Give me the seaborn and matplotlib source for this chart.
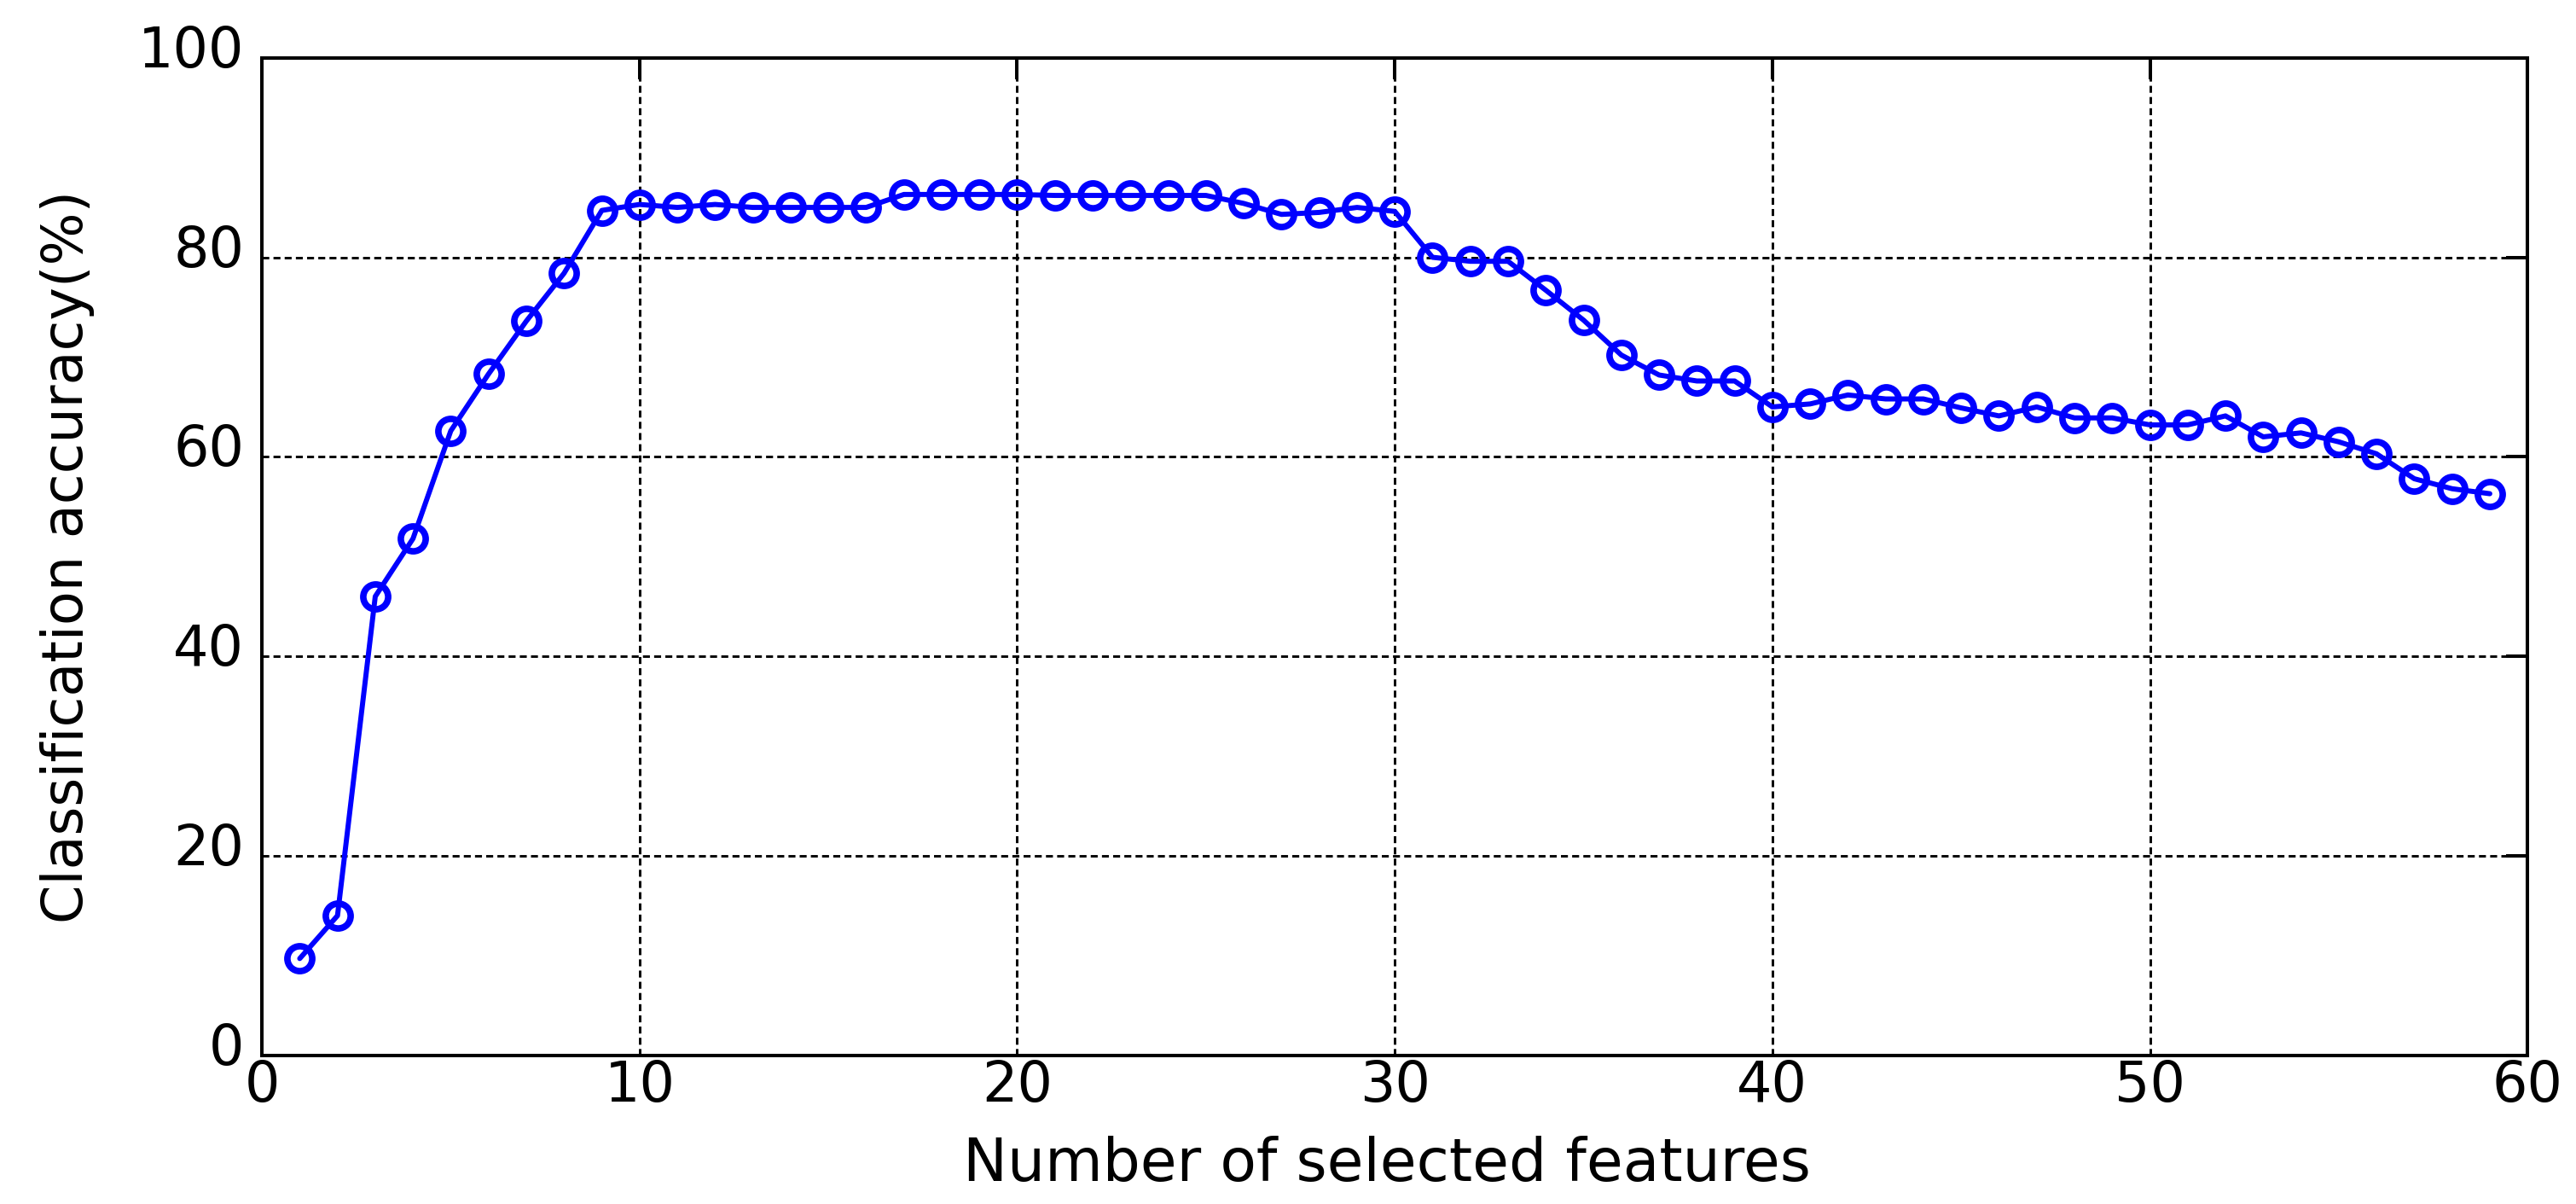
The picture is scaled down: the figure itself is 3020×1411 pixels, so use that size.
import numpy as np
import pandas as pd
import seaborn as sns
import matplotlib
matplotlib.use('Agg')
import matplotlib.pyplot as plt
import matplotlib.transforms as mtransforms

features = list(range(1, 60))
accuracy = [9.7, 14.0, 46.0, 51.8, 62.6, 68.3, 73.6, 78.4, 84.7, 85.3,
            85.0, 85.3, 85.0, 85.0, 85.0, 85.0, 86.3, 86.3, 86.3, 86.3,
            86.2, 86.2, 86.2, 86.2, 86.2, 85.4, 84.3, 84.5, 85.0, 84.6,
            80.0, 79.6, 79.6, 76.7, 73.7, 70.2, 68.2, 67.6, 67.6, 65.0,
            65.3, 66.2, 65.8, 65.8, 64.9, 64.1, 65.0, 63.9, 63.9, 63.2,
            63.2, 64.1, 62.0, 62.4, 61.5, 60.3, 57.8, 56.8, 56.3]
xticks = [0, 10, 20, 30, 40, 50, 60]
yticks = [0, 20, 40, 60, 80, 100]

df = pd.DataFrame({'features': features, 'accuracy': accuracy})

sns.set_theme(style='white')
plt.rcParams['font.family'] = ['DejaVu Sans']

fig = plt.figure(figsize=(30.2, 14.11), dpi=100)
ax = fig.add_axes([0.1017, 0.1235, 0.8795, 0.8285])

sns.lineplot(data=df, x='features', y='accuracy', ax=ax, color='#0000ff',
             linewidth=4.3, marker='o', markersize=21, markerfacecolor='none',
             markeredgecolor='#0000ff', markeredgewidth=5.5)

ax.set_xlim(0, 60)
ax.set_ylim(0, 100)
ax.set_xticks(xticks)
ax.set_yticks(yticks)
ax.grid(True, color='black', linestyle='--', linewidth=2.1, dashes=(2.8, 1.7))
for s in ax.spines.values():
    s.set_visible(True)
    s.set_color('black')
    s.set_linewidth(2.9)
ax.tick_params(axis='both', direction='in', length=18, width=2.9, color='black',
               top=True, right=True, labelsize=47, labelcolor='black')
ax.tick_params(axis='x', pad=3)
ax.tick_params(axis='y', pad=15)

ax.set_xlabel('Number of selected features', fontsize=50, color='black')
ax.set_ylabel('Classification accuracy(%)', fontsize=47, color='black')
ax.xaxis.set_label_coords(0.4966, -0.081)
ax.yaxis.set_label_coords(-0.074, 0.5)

# y tick labels sit a little above their ticks in the original
shift = mtransforms.ScaledTranslation(0, 14 / 100, fig.dpi_scale_trans)
for lab in ax.get_yticklabels():
    lab.set_transform(lab.get_transform() + shift)

fig.savefig('out.png', dpi=100, facecolor='white')
